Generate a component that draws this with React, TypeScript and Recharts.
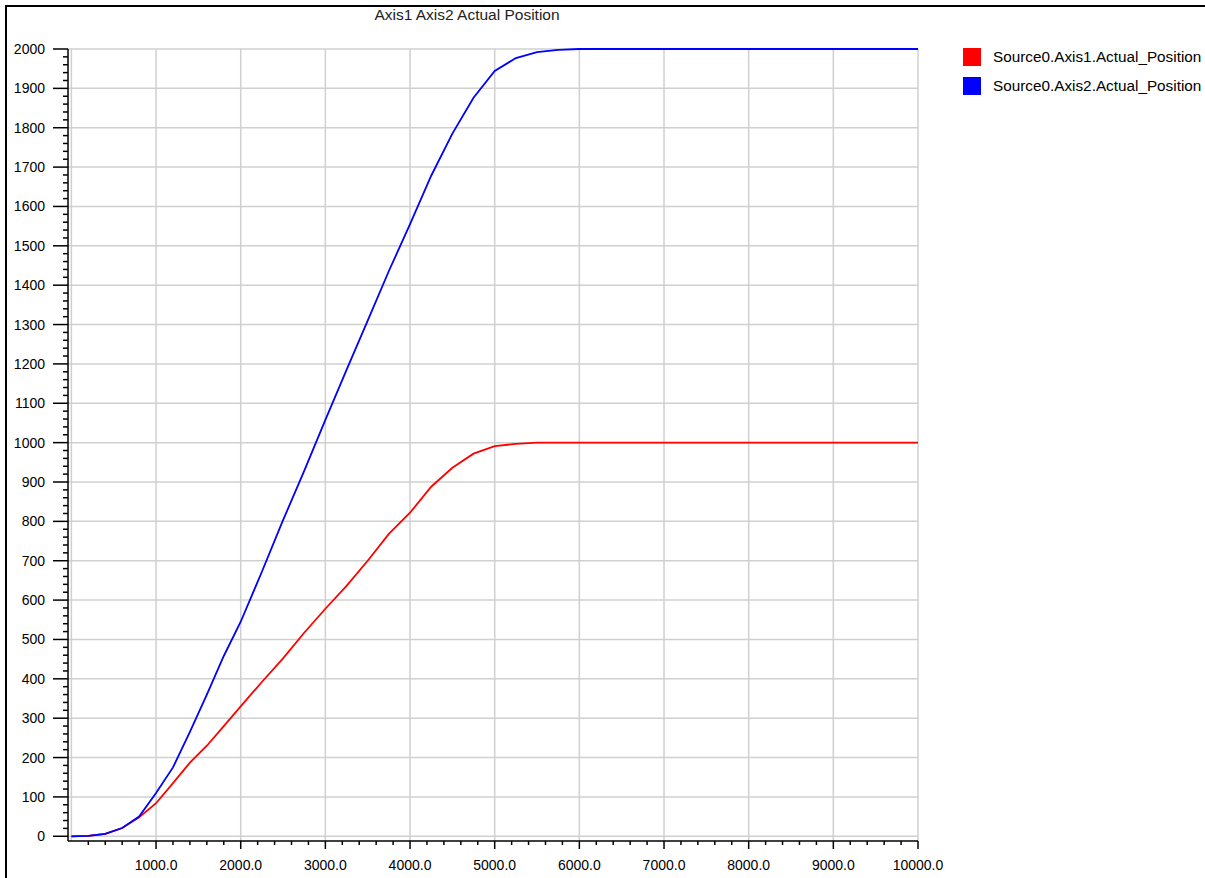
import React from 'react';
import { LineChart, Line, XAxis, YAxis, CartesianGrid } from 'recharts';

// sample times (x axis)
const times = [
  0, 200, 400, 600, 800, 1000, 1200, 1400, 1600, 1800, 2000, 2250, 2500, 2750, 3000, 3250, 3500,
  3750, 4000, 4250, 4500, 4750, 5000, 5250, 5500, 5750, 6000, 10000,
];

const axis1Position = [
  0, 1, 6, 21, 48, 84, 135, 187, 230, 280, 330, 392, 452, 517, 578, 636, 700, 768, 822, 888, 936,
  972, 991, 997, 1000, 1000, 1000, 1000,
];

const axis2Position = [
  0, 1, 6, 21, 50, 110, 175, 265, 360, 458, 545, 672, 803, 928, 1058, 1185, 1310, 1436, 1555, 1678,
  1785, 1876, 1944, 1977, 1992, 1998, 2000, 2000,
];

const xMajorTicks = [1000, 2000, 3000, 4000, 5000, 6000, 7000, 8000, 9000, 10000];
const yMajorTicks = [
  0, 100, 200, 300, 400, 500, 600, 700, 800, 900, 1000, 1100, 1200, 1300, 1400, 1500, 1600, 1700,
  1800, 1900, 2000,
];

const seriesNames = ['Source0.Axis1.Actual_Position', 'Source0.Axis2.Actual_Position'];
const seriesColors = ['#ff0000', '#0000ff'];

const data = times.map((t, i) => ({
  t,
  a1: axis1Position[i],
  a2: axis2Position[i],
}));

// minor ticks every 200 on x, every 20 on y
const xTicks: number[] = [];
for (let v = 200; v <= 10000; v += 200) xTicks.push(v);
const yTicks: number[] = [];
for (let v = 0; v <= 2000; v += 20) yTicks.push(v);

const font = '"Liberation Sans", Arial, sans-serif';

const XTick = (props: any) => {
  const { x, y, payload } = props;
  const major = payload.value % 1000 === 0;
  return (
    <g>
      <line x1={x} y1={y} x2={x} y2={y + (major ? 8 : 4)} stroke="#000" strokeWidth={1.5} />
      {major && (
        <text x={x} y={y + 29} textAnchor="middle" fontSize={14} fontFamily={font} fill="#000">
          {payload.value.toFixed(1)}
        </text>
      )}
    </g>
  );
};

const YTick = (props: any) => {
  const { x, y, payload } = props;
  const major = payload.value % 100 === 0;
  return (
    <g>
      <line x1={x} y1={y} x2={x - (major ? 15 : 5)} y2={y} stroke="#000" strokeWidth={1.5} />
      {major && (
        <text x={x - 23} y={y + 5} textAnchor="end" fontSize={14} fontFamily={font} fill="#000">
          {payload.value}
        </text>
      )}
    </g>
  );
};

export default function App() {
  return (
    <div
      style={{
        position: 'absolute',
        left: 0,
        top: 0,
        width: 1205,
        height: 878,
        background: '#fff',
        overflow: 'hidden',
      }}
    >
      <div
        style={{
          position: 'absolute',
          left: 0,
          width: 934,
          top: 6,
          textAlign: 'center',
          fontFamily: font,
          fontSize: 15.5,
          color: '#222',
        }}
      >
        Axis1 Axis2 Actual Position
      </div>
      <LineChart
        width={1205}
        height={878}
        data={data}
        margin={{ top: 49, right: 287, bottom: 0, left: 8 }}
      >
        <CartesianGrid
          stroke="#d0d0d0"
          strokeWidth={1.5}
          verticalValues={[0, ...xMajorTicks]}
          horizontalValues={yMajorTicks}
        />
        <XAxis
          dataKey="t"
          type="number"
          domain={[-40, 10000]}
          ticks={xTicks}
          interval={0}
          height={37}
          tickSize={0}
          tickMargin={0}
          tickLine={false}
          axisLine={{ stroke: '#000', strokeWidth: 1.5 }}
          tick={<XTick />}
        />
        <YAxis
          type="number"
          domain={[-12, 2000]}
          ticks={yTicks}
          interval={0}
          width={60}
          tickSize={0}
          tickMargin={0}
          tickLine={false}
          axisLine={{ stroke: '#000', strokeWidth: 1.5 }}
          tick={<YTick />}
        />
        <Line
          type="linear"
          dataKey="a1"
          name={seriesNames[0]}
          stroke={seriesColors[0]}
          strokeWidth={1.8}
          dot={false}
          isAnimationActive={false}
        />
        <Line
          type="linear"
          dataKey="a2"
          name={seriesNames[1]}
          stroke={seriesColors[1]}
          strokeWidth={1.8}
          dot={false}
          isAnimationActive={false}
        />
      </LineChart>
      <div
        style={{
          position: 'absolute',
          left: 963,
          top: 42,
          fontFamily: font,
          fontSize: 15.3,
          color: '#000',
          zIndex: 2,
        }}
      >
        {seriesNames.map((name, i) => (
          <div key={name} style={{ display: 'flex', alignItems: 'center', height: 29, whiteSpace: 'nowrap' }}>
            <div style={{ width: 18, height: 18, background: seriesColors[i], marginRight: 12 }} />
            <span>{name}</span>
          </div>
        ))}
      </div>
      <div
        style={{
          position: 'absolute',
          left: 5,
          top: 5,
          right: 0,
          bottom: 0,
          borderLeft: '2px solid #000',
          borderTop: '2px solid #000',
          pointerEvents: 'none',
          zIndex: 10,
        }}
      />
    </div>
  );
}
